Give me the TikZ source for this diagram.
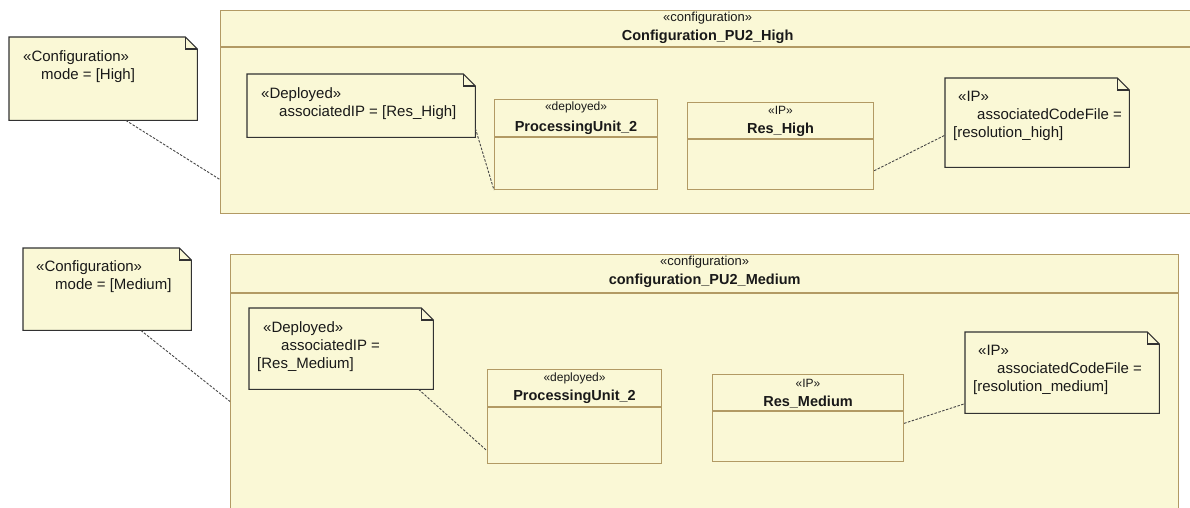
\documentclass[tikz,border=0pt]{standalone}
\usepackage{fontspec}
\setmainfont{Liberation Sans}
\usetikzlibrary{calc, positioning}
\definecolor{notefill}{RGB}{250,248,214}
\definecolor{umlbrown}{RGB}{178,154,100}
\definecolor{notedark}{RGB}{50,50,50}
\definecolor{linkgray}{RGB}{70,70,70}
\definecolor{txtdark}{RGB}{25,25,25}
\tikzset{
  umlframe/.style={rectangle, draw=umlbrown, fill=notefill, line width=1.3pt,
    anchor=north west, inner sep=0pt},
  umlclass/.style={rectangle, draw=umlbrown, fill=notefill, line width=1.1pt,
    anchor=north west, inner sep=0pt},
  classline/.style={draw=umlbrown, line width=1.1pt},
  notebox/.style={rectangle, anchor=north west, inner sep=0pt},
  noteline/.style={draw=notedark, fill=notefill, line width=1.1pt},
  notetext/.style={anchor=north west, inner sep=0pt, align=left, text=txtdark,
    font=\fontsize{15}{18}\selectfont},
  stereo/.style={inner sep=0pt, text=txtdark, font=\fontsize{12}{12}\selectfont},
  framestereo/.style={inner sep=0pt, text=txtdark, font=\fontsize{13}{13}\selectfont},
  classname/.style={inner sep=0pt, text=txtdark, font=\fontsize{14.5}{15}\selectfont\bfseries},
  link/.style={draw=linkgray, line width=0.9pt, dash pattern=on 2.5pt off 1.5pt}
}
% note outline with folded corner, drawn on an empty placeholder node
\newcommand{\dogear}[1]{%
  \filldraw[noteline] (#1.south west) -- (#1.north west) -- ([xshift=-12pt]#1.north east)
    -- ([yshift=-12pt]#1.north east) -- (#1.south east) -- cycle;
  \draw[noteline, fill=none] ([xshift=-12pt]#1.north east) |- ([yshift=-12pt]#1.north east);}

\begin{document}
\begin{tikzpicture}[x=1pt, y=-1pt]
  \clip (0,0) rectangle (1190,508);

  % High configuration
  \node[umlframe, minimum width=974pt, minimum height=203pt] (frameHigh) at (220,10) {};
  \node[framestereo] at ([yshift=-8pt]frameHigh.north) {«configuration»};
  \node[classname] at ([yshift=-27pt]frameHigh.north) {Configuration\_PU2\_High};
  \draw[classline] ([yshift=-37pt]frameHigh.north west) -- ([yshift=-37pt]frameHigh.north east);

  \node[umlclass, minimum width=163pt, minimum height=90pt] (puHigh) at (494,99) {};
  \node[stereo] at ([yshift=-8pt]puHigh.north) {«deployed»};
  \node[classname] at ([yshift=-29pt]puHigh.north) {ProcessingUnit\_2};
  \draw[classline] ([yshift=-38pt]puHigh.north west) -- ([yshift=-38pt]puHigh.north east);

  \node[umlclass, minimum width=186pt, minimum height=87pt] (resHigh) at (687,102) {};
  \node[stereo] at ([yshift=-8pt]resHigh.north) {«IP»};
  \node[classname] at ([yshift=-28pt]resHigh.north) {Res\_High};
  \draw[classline] ([yshift=-37pt]resHigh.north west) -- ([yshift=-37pt]resHigh.north east);

  \node[notebox, minimum width=188pt, minimum height=83pt] (cfgHigh) at (9,37) {};
  \dogear{cfgHigh}
  \node[notetext] at ([shift={(8pt,-13pt)}]cfgHigh.north west)
    {\hspace*{6pt}«Configuration»\\\hspace*{24pt}mode = [High]};

  \node[notebox, minimum width=228pt, minimum height=63pt] (depHigh) at (247,74) {};
  \dogear{depHigh}
  \node[notetext] at ([shift={(8pt,-13pt)}]depHigh.north west)
    {\hspace*{6pt}«Deployed»\\\hspace*{24pt}associatedIP = [Res\_High]};

  \node[notebox, minimum width=184pt, minimum height=89pt] (ipHigh) at (945,78) {};
  \dogear{ipHigh}
  \node[notetext] at ([shift={(8pt,-13pt)}]ipHigh.north west)
    {\hspace*{5pt}«IP»\\\hspace*{24pt}associatedCodeFile =\\{}[resolution\_high]};

  % Medium configuration
  \node[umlframe, minimum width=948pt, minimum height=262pt] (frameMed) at (230,254) {};
  \node[framestereo] at ([yshift=-8pt]frameMed.north) {«configuration»};
  \node[classname] at ([yshift=-27pt]frameMed.north) {configuration\_PU2\_Medium};
  \draw[classline] ([yshift=-39pt]frameMed.north west) -- ([yshift=-39pt]frameMed.north east);

  \node[umlclass, minimum width=174pt, minimum height=94pt] (puMed) at (487,369) {};
  \node[stereo] at ([yshift=-9pt]puMed.north) {«deployed»};
  \node[classname] at ([yshift=-28pt]puMed.north) {ProcessingUnit\_2};
  \draw[classline] ([yshift=-38pt]puMed.north west) -- ([yshift=-38pt]puMed.north east);

  \node[umlclass, minimum width=191pt, minimum height=87pt] (resMed) at (712,374) {};
  \node[stereo] at ([yshift=-9pt]resMed.north) {«IP»};
  \node[classname] at ([yshift=-28pt]resMed.north) {Res\_Medium};
  \draw[classline] ([yshift=-37pt]resMed.north west) -- ([yshift=-37pt]resMed.north east);

  \node[notebox, minimum width=168pt, minimum height=82pt] (cfgMed) at (23,248) {};
  \dogear{cfgMed}
  \node[notetext] at ([shift={(8pt,-12pt)}]cfgMed.north west)
    {\hspace*{5pt}«Configuration»\\\hspace*{24pt}mode = [Medium]};

  \node[notebox, minimum width=184pt, minimum height=81pt] (depMed) at (249,308) {};
  \dogear{depMed}
  \node[notetext] at ([shift={(8pt,-13pt)}]depMed.north west)
    {\hspace*{6pt}«Deployed»\\\hspace*{24pt}associatedIP =\\{}[Res\_Medium]};

  \node[notebox, minimum width=194pt, minimum height=81pt] (ipMed) at (965,332) {};
  \dogear{ipMed}
  \node[notetext] at ([shift={(8pt,-13pt)}]ipMed.north west)
    {\hspace*{5pt}«IP»\\\hspace*{24pt}associatedCodeFile =\\{}[resolution\_medium]};

  % anchors of notes
  \draw[link] ($(cfgHigh.south west)!0.62!(cfgHigh.south east)$) -- ($(frameHigh.south west)!0.17!(frameHigh.north west)$);
  \draw[link] ($(depHigh.south east)!0.14!(depHigh.north east)$) -- (puHigh.south west);
  \draw[link] ($(resHigh.south east)!0.22!(resHigh.north east)$) -- ($(ipHigh.south west)!0.36!(ipHigh.north west)$);
  \draw[link] ($(cfgMed.south west)!0.70!(cfgMed.south east)$) -- ($(frameMed.south west)!0.44!(frameMed.north west)$);
  \draw[link] ($(depMed.south west)!0.92!(depMed.south east)$) -- ($(puMed.south west)!0.14!(puMed.north west)$);
  \draw[link] ($(resMed.south east)!0.44!(resMed.north east)$) -- ($(ipMed.south west)!0.12!(ipMed.north west)$);
\end{tikzpicture}
\end{document}
